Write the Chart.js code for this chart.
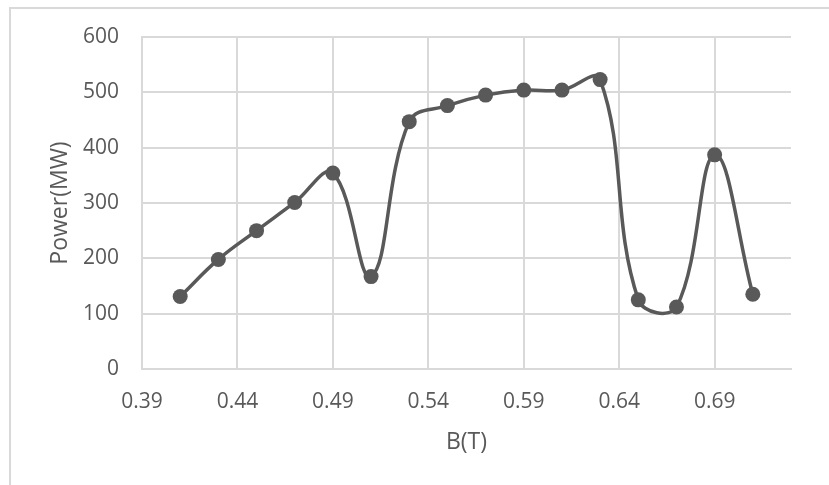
<!DOCTYPE html>
<html>
<head>
<meta charset="utf-8">
<script src="https://cdn.jsdelivr.net/npm/chart.js@4.4.1/dist/chart.umd.min.js"></script>
<style>
  html, body { margin:0; padding:0; background:#fff; }
  #wrap { position:relative; width:829px; height:485px; overflow:hidden; }
  #frame { position:absolute; left:9px; top:7px; width:2000px; height:2000px; border:2px solid #d9d9d9; box-sizing:border-box; }
  #c { position:absolute; left:0; top:0; }
</style>
</head>
<body>
<div id="wrap">
  <div id="frame"></div>
  <canvas id="c" width="829" height="485"></canvas>
</div>
<script>
// B(T) values and measured power (MW)
const bValues = [0.41, 0.43, 0.45, 0.47, 0.49, 0.51, 0.53, 0.55, 0.57, 0.59, 0.61, 0.63, 0.65, 0.67, 0.69, 0.71];
const powerMW = [131, 198, 250, 301, 354, 167, 447, 476, 495, 504, 504, 523, 125, 112, 387, 135];
const xTicks = [0.39, 0.44, 0.49, 0.54, 0.59, 0.64, 0.69];
const yTicks = [0, 100, 200, 300, 400, 500, 600];

const ink = '#595959';
const gridCol = '#d9d9d9';

const points = bValues.map((b, i) => ({ x: b, y: powerMW[i] }));

new Chart(document.getElementById('c').getContext('2d'), {
  type: 'scatter',
  data: {
    datasets: [{
      data: points,
      showLine: true,
      borderColor: ink,
      backgroundColor: ink,
      borderWidth: 3.5,
      tension: 0.4,
      pointRadius: 7.5,
      pointBorderWidth: 0,
      pointBackgroundColor: ink
    }]
  },
  options: {
    responsive: false,
    animation: false,
    layout: { padding: { left: 0, top: 37, right: 38, bottom: 0 } },
    plugins: { legend: { display: false }, tooltip: { enabled: false } },
    scales: {
      x: {
        type: 'linear',
        min: 0.39,
        max: 0.73,
        afterBuildTicks: s => { s.ticks = xTicks.map(v => ({ value: v })); },
        afterFit: s => { s.height = 116; },
        grid: { color: gridCol, lineWidth: 2, drawTicks: false },
        border: { color: gridCol, width: 2 },
        ticks: {
          color: ink,
          font: { family: 'Open Sans', size: 21 },
          padding: 20,
          maxRotation: 0,
          callback: v => Number(v).toFixed(2)
        },
        title: {
          display: true,
          text: 'B(T)',
          color: ink,
          font: { family: 'Open Sans', size: 23, weight: 'normal' },
          padding: { top: 0, bottom: 29 }
        }
      },
      y: {
        min: 0,
        max: 600,
        afterBuildTicks: s => { s.ticks = yTicks.map(v => ({ value: v })); },
        afterFit: s => { s.width = 142; },
        grid: { color: gridCol, lineWidth: 2, drawTicks: false },
        border: { color: gridCol, width: 2 },
        ticks: {
          color: ink,
          font: { family: 'Open Sans', size: 21 },
          padding: 23
        },
        title: {
          display: true,
          text: 'Power(MW)',
          color: ink,
          font: { family: 'Open Sans', size: 23, weight: 'normal' },
          padding: { top: 47, bottom: 0 }
        }
      }
    }
  }
});
</script>
</body>
</html>
